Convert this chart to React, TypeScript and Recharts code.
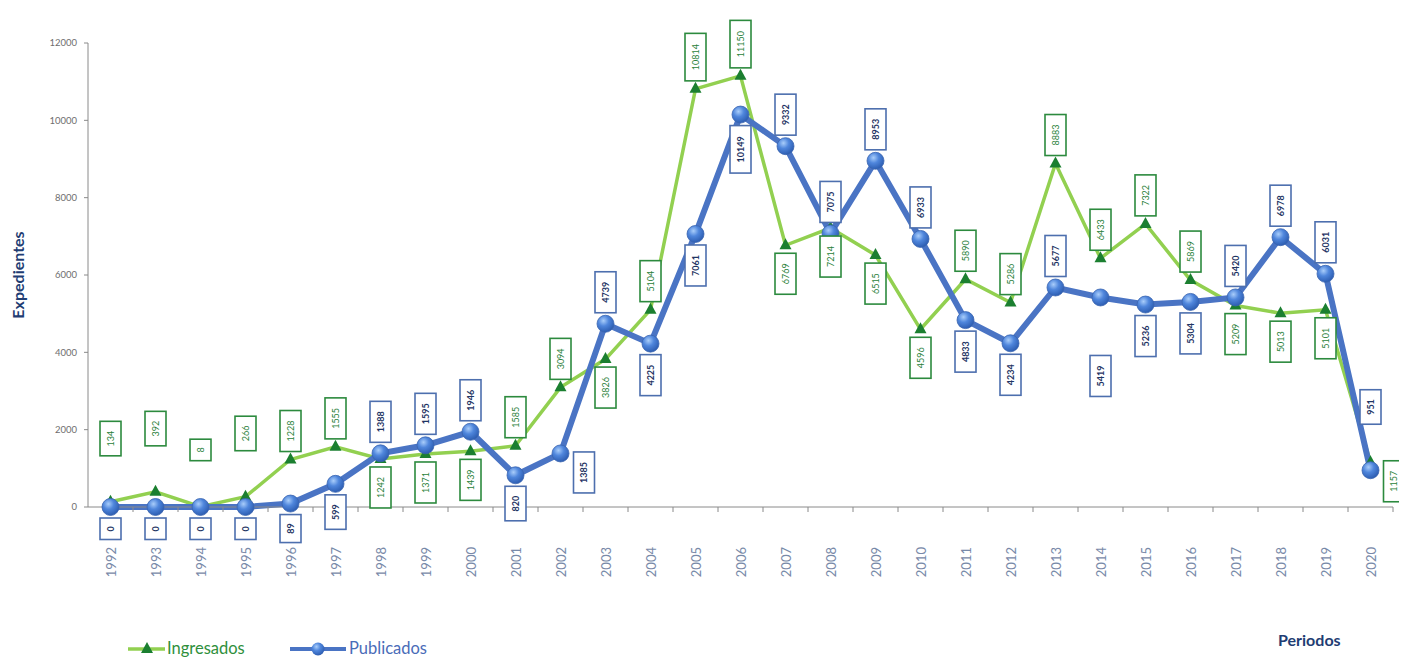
import React from 'react';
import { LabelList, Line, LineChart, XAxis, YAxis } from 'recharts';

const YEARS = ['1992', '1993', '1994', '1995', '1996', '1997', '1998', '1999', '2000', '2001', '2002', '2003', '2004', '2005', '2006', '2007', '2008', '2009', '2010', '2011', '2012', '2013', '2014', '2015', '2016', '2017', '2018', '2019', '2020'];
const INGRESADOS = [134, 392, 8, 266, 1228, 1555, 1242, 1371, 1439, 1585, 3094, 3826, 5104, 10814, 11150, 6769, 7214, 6515, 4596, 5890, 5286, 8883, 6433, 7322, 5869, 5209, 5013, 5101, 1157];
const PUBLICADOS = [0, 0, 0, 0, 89, 599, 1388, 1595, 1946, 820, 1385, 4739, 4225, 7061, 10149, 9332, 7075, 8953, 6933, 4833, 4234, 5677, 5419, 5236, 5304, 5420, 6978, 6031, 951];
const Y_TICKS = [0, 2000, 4000, 6000, 8000, 10000, 12000];

// where each value box sits relative to its point: T/B above/below, TT/BB further away, R to the right
const ING_SIDES = ['TT', 'TT', 'TT', 'TT', 'T', 'T', 'B', 'B', 'B', 'T', 'T', 'B', 'T', 'T', 'T', 'B', 'B', 'B', 'B', 'T', 'T', 'T', 'T', 'T', 'T', 'B', 'B', 'B', 'R'];
const PUB_SIDES = ['B', 'B', 'B', 'B', 'B', 'B', 'T', 'T', 'T', 'B', 'R', 'T', 'B', 'B', 'B', 'T', 'T', 'T', 'T', 'B', 'B', 'T', 'BB', 'B', 'B', 'T', 'T', 'T', 'TT'];

const data = YEARS.map((year, i) => ({ year, ing: INGRESADOS[i], pub: PUBLICADOS[i] }));

const W = 1399;
const H = 651;
const LEFT = 80;
const RIGHT = 14;
const AXIS_Y = 499;
const BAND = (W - LEFT - RIGHT) / YEARS.length;

const GREEN_LINE = '#92d050';
const GREEN_DARK = '#1b7f30';
const BLUE = '#4a74c4';
const NAVY = '#1f3d73';
const FONT = 'Lato, "Open Sans", sans-serif';

function YearTick({ x, payload }: any) {
    const ty = AXIS_Y + 40;
    return (
        <g>
            <line x1={x + BAND / 2} x2={x + BAND / 2} y1={AXIS_Y} y2={AXIS_Y + 5} stroke="#8a8a8a" />
            <text
                x={x}
                y={ty}
                transform={`rotate(-90, ${x}, ${ty})`}
                textAnchor="end"
                dominantBaseline="central"
                fontSize={13}
                fontFamily={FONT}
                fill="#7889a8"
            >
                {payload.value}
            </text>
        </g>
    );
}

function boxLabel(sides: string[], kind: 'ing' | 'pub') {
    return (props: any) => {
        const { x, y, value, index } = props;
        if (x == null || y == null) return null;
        const text = String(value);
        const bw = 21;
        const bh = text.length * 6.5 + 15;
        const gap = kind === 'pub' ? 11 : 8;
        const side = sides[index];
        let cx = x;
        let cy = y - gap - bh / 2;
        if (side === 'TT') cy = y - 46 - bh / 2;
        else if (side === 'B') cy = y + gap + bh / 2;
        else if (side === 'BB') cy = y + 58 + bh / 2;
        else if (side === 'R') {
            cx = x + 13 + bw / 2;
            cy = y + 19;
        }
        const border = kind === 'pub' ? '#4d6fae' : '#2c8a3e';
        const color = kind === 'pub' ? '#1f3564' : '#2a7f3a';
        return (
            <g key={`${kind}-${index}`}>
                <rect x={cx - bw / 2} y={cy - bh / 2} width={bw} height={bh} fill="#fff" stroke={border} strokeWidth={1.6} />
                <text
                    x={cx}
                    y={cy}
                    transform={`rotate(-90, ${cx}, ${cy})`}
                    textAnchor="middle"
                    dominantBaseline="central"
                    fontSize={9}
                    fontWeight={kind === 'pub' ? 700 : 400}
                    fontFamily={FONT}
                    fill={color}
                >
                    {text}
                </text>
            </g>
        );
    };
}

const TriangleDot = (props: any) => {
    const { cx, cy, index } = props;
    return <polygon key={`t-${index}`} points={`${cx},${cy - 7} ${cx - 6},${cy + 4} ${cx + 6},${cy + 4}`} fill={GREEN_DARK} />;
};

const BallDot = (props: any) => {
    const { cx, cy, index } = props;
    return <circle key={`c-${index}`} cx={cx} cy={cy} r={8.5} fill="url(#ballFill)" stroke="#3a64b0" strokeWidth={0.8} />;
};

export default function App() {
    return (
        <div style={{ position: 'relative', width: W, height: H }}>
            <svg width={0} height={0} style={{ position: 'absolute' }}>
                <defs>
                    <radialGradient id="ballFill" cx="38%" cy="32%" r="70%">
                        <stop offset="0%" stopColor="#a9cdfa" />
                        <stop offset="45%" stopColor="#4f86dc" />
                        <stop offset="100%" stopColor="#2c5cb0" />
                    </radialGradient>
                </defs>
            </svg>
            <LineChart width={W} height={H} data={data} margin={{ top: 35, right: RIGHT, bottom: 92, left: 0 }}>
                <XAxis
                    dataKey="year"
                    height={60}
                    interval={0}
                    padding={{ left: BAND / 2, right: BAND / 2 }}
                    tickLine={false}
                    axisLine={{ stroke: '#8a8a8a' }}
                    tick={<YearTick />}
                />
                <YAxis
                    width={LEFT}
                    domain={[0, 12000]}
                    ticks={Y_TICKS}
                    tickSize={4}
                    tickMargin={7}
                    axisLine={{ stroke: '#8a8a8a' }}
                    tickLine={{ stroke: '#8a8a8a' }}
                    tick={{ fontSize: 9.5, fill: '#6e6e6e', fontFamily: FONT }}
                />
                <Line type="linear" dataKey="ing" stroke={GREEN_LINE} strokeWidth={3.5} dot={<TriangleDot />} isAnimationActive={false}>
                    <LabelList dataKey="ing" content={boxLabel(ING_SIDES, 'ing')} />
                </Line>
                <Line type="linear" dataKey="pub" stroke={BLUE} strokeWidth={6} dot={<BallDot />} isAnimationActive={false}>
                    <LabelList dataKey="pub" content={boxLabel(PUB_SIDES, 'pub')} />
                </Line>
            </LineChart>
            <svg width={W} height={H} style={{ position: 'absolute', left: 0, top: 0, pointerEvents: 'none' }}>
                <text x={9} y={267} transform="rotate(-90, 9, 267)" textAnchor="middle" dominantBaseline="central" fontSize={16} fontWeight={700} fontFamily={FONT} fill={NAVY}>
                    Expedientes
                </text>
                <text x={1270} y={638} fontSize={16} fontWeight={700} fontFamily={FONT} fill={NAVY}>
                    Periodos
                </text>
                <line x1={120} x2={157} y1={641} y2={641} stroke={GREEN_LINE} strokeWidth={3.5} />
                <polygon points="139,634 133,645 145,645" fill={GREEN_DARK} />
                <text x={159} y={646} fontSize={16.5} fontFamily={FONT} fill="#2f8f3c">
                    Ingresados
                </text>
                <line x1={282} x2={338} y1={641} y2={641} stroke={BLUE} strokeWidth={4} />
                <circle cx={310} cy={641} r={6.5} fill="url(#ballFill)" />
                <text x={341} y={646} fontSize={16.5} fontFamily={FONT} fill="#4a6cb8">
                    Publicados
                </text>
            </svg>
        </div>
    );
}
